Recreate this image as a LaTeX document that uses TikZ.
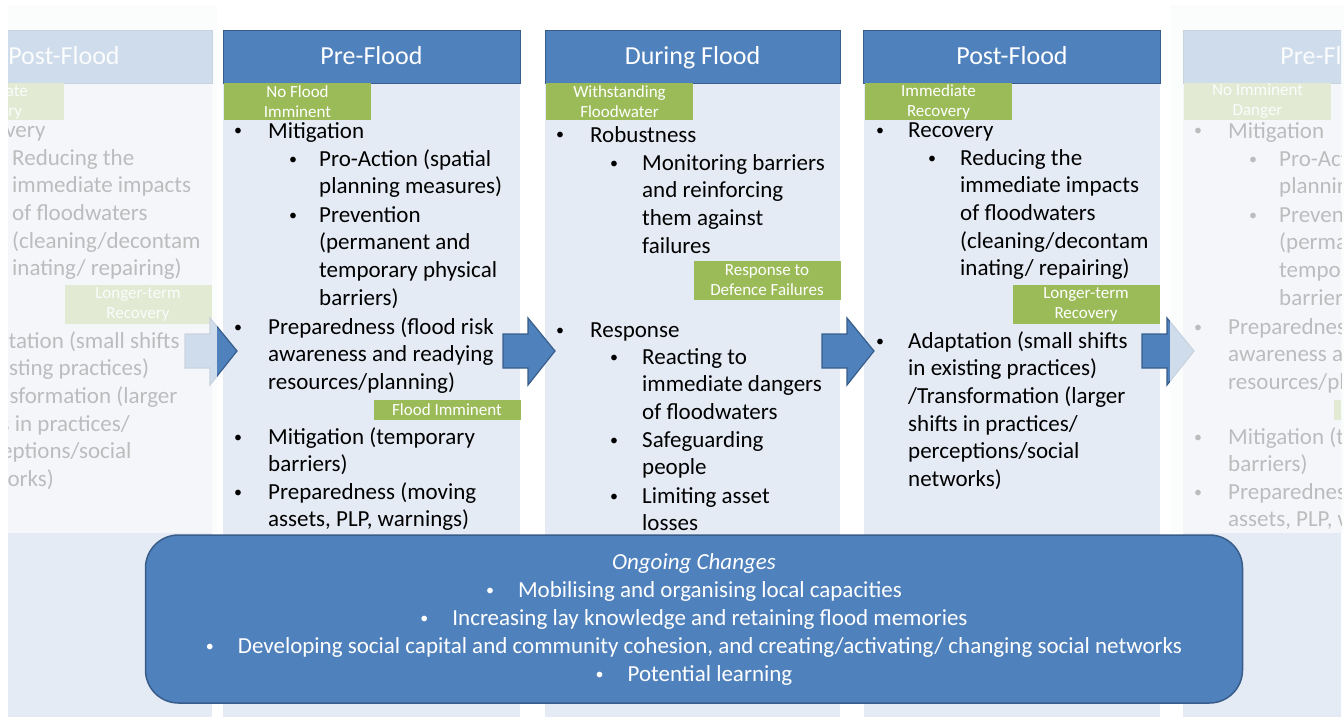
\documentclass[tikz,border=0pt]{standalone}
\usepackage{fontspec}
\setmainfont{Carlito}
\definecolor{hdr}{HTML}{4F81BD}
\definecolor{hdrline}{HTML}{385D8A}
\definecolor{colbg}{HTML}{E5EBF5}
\definecolor{lbl}{HTML}{9BBB59}
\definecolor{veil}{HTML}{FAFBFC}
\newcommand\smalldot{{\fontsize{16}{16}\selectfont\raisebox{2pt}{•}}}
\tikzset{
  colbody/.style={fill=colbg},
  header/.style={fill=hdr, draw=hdrline, line width=0.8pt, text=white,
    font=\fontsize{26}{30}\selectfont, minimum width=297pt, minimum height=53pt,
    inner sep=0pt, text height=22pt, text depth=5pt},
  tag/.style={fill=lbl, text=white, font=\fontsize{17}{20}\selectfont,
    align=center, inner sep=0pt, minimum width=147pt},
  item/.style={anchor=base west, align=left, inner sep=0pt, font=\fontsize{23}{27.7}\selectfont},
  dot/.style={anchor=base, inner sep=0pt, font=\fontsize{23}{27.7}\selectfont},
  flow/.style={fill=hdr, draw=hdrline, line width=1.2pt, line join=miter},
  veiled/.style={fill=veil, opacity=0.75},
  ongoingbox/.style={fill=hdr, draw=hdrline, line width=1.5pt, rounded corners=33pt,
    minimum width=1097pt, minimum height=168pt, text=white, align=center,
    font=\fontsize{23}{28}\selectfont}
}
% note: the base anchor of a multi-line node is the baseline of its last line
\newcommand\precolumn[1]{%
  \fill[colbody] (223,30) rectangle (520,717);
  \node[header] (head) at (371.5,56.5) {Pre-Flood};
  \node[tag, minimum height=37pt] (tagA) at (297.5,101.5) {#1};
  \node[tag, minimum height=20pt] (tagB) at (447,410) {Flood Imminent};
  \node[dot] (b1) at (238,138) {\smalldot};
  \node[item] (i1) at (268,138) {Mitigation};
  \node[dot] (b2) at (293,166) {\smalldot};
  \node[item] (i2) at (319,193.7) {Pro-Action (spatial\\planning measures)};
  \node[dot] (b3) at (293,222) {\smalldot};
  \node[item] (i3) at (319,305.1) {Prevention\\(permanent and\\temporary physical\\barriers)};
  \node[dot] (b4) at (238,334) {\smalldot};
  \node[item] (i4) at (268,389.4) {Preparedness (flood risk\\awareness and readying\\resources/planning)};
  \node[dot] (b5) at (238,444) {\smalldot};
  \node[item] (i5) at (268,471.7) {Mitigation (temporary\\barriers)};
  \node[dot] (b6) at (238,499) {\smalldot};
  \node[item] (i6) at (268,526.7) {Preparedness (moving\\assets, PLP, warnings)};
}
\newcommand\postcolumn{%
  \fill[colbody] (864,30) rectangle (1160,717);
  \node[header] (head) at (1012,56.5) {Post-Flood};
  \node[tag, minimum height=37pt] (tagA) at (938.5,101.5) {Immediate\\Recovery};
  \node[tag, minimum height=39pt] (tagB) at (1086,304.5) {Longer-term\\Recovery};
  \node[dot] (b1) at (880,137) {\smalldot};
  \node[item] (i1) at (908,137) {Recovery};
  \node[dot] (b2) at (932,165) {\smalldot};
  \node[item] (i2) at (960,275.8) {Reducing the\\immediate impacts\\of floodwaters\\(cleaning/decontam\\inating/ repairing)};
  \node[dot] (b3) at (880,348) {\smalldot};
  \node[item] (i3) at (908,486.5) {Adaptation (small shifts\\in existing practices)\\/Transformation (larger\\shifts in practices/\\perceptions/social\\networks)};
}
\newcommand\flowarrow[1]{%
  \draw[flow] (#1,334) -- ++(25,0) -- ++(0,-16) -- ++(27,33) -- ++(-27,34) -- ++(0,-17) -- ++(-25,0) -- cycle;
}
\begin{document}
\begin{tikzpicture}[x=1pt,y=-1pt]
\useasboundingbox (0,0) rectangle (1344,717);
\fill[white] (0,0) rectangle (1344,717);
\begin{scope}
  \clip (8,0) rectangle (1341,717);
  % left faded copy of Post-Flood
  \begin{scope}[shift={(-948,0)}, name prefix=L-]
    \postcolumn
  \end{scope}
  % Pre-Flood
  \begin{scope}[name prefix=pre-]
    \precolumn{No Flood\\Imminent}
  \end{scope}
  % During Flood
  \begin{scope}[name prefix=dur-]
    \fill[colbody] (545,30) rectangle (840,717);
    \node[header, minimum width=295pt] (head) at (692.5,56.5) {During Flood};
    \node[tag, minimum height=37pt] (tagA) at (619.5,101.5) {Withstanding\\Floodwater};
    \node[tag, minimum height=39pt] (tagB) at (767,280.5) {Response to\\Defence Failures};
    \node[dot] (b1) at (560,142) {\smalldot};
    \node[item] (i1) at (590,142) {Robustness};
    \node[dot] (b2) at (614,170) {\smalldot};
    \node[item] (i2) at (642,253.1) {Monitoring barriers\\and reinforcing\\them against\\failures};
    \node[dot] (b3) at (560,337) {\smalldot};
    \node[item] (i3) at (590,337) {Response};
    \node[dot] (b4) at (614,364) {\smalldot};
    \node[item] (i4) at (642,419.4) {Reacting to\\immediate dangers\\of floodwaters};
    \node[dot] (b5) at (614,447) {\smalldot};
    \node[item] (i5) at (642,474.7) {Safeguarding\\people};
    \node[dot] (b6) at (614,503) {\smalldot};
    \node[item] (i6) at (642,530.7) {Limiting asset\\losses};
  \end{scope}
  % Post-Flood
  \begin{scope}[name prefix=post-]
    \postcolumn
  \end{scope}
  % right faded copy of Pre-Flood
  \begin{scope}[shift={(960,0)}, name prefix=R-]
    \precolumn{No Imminent\\Danger}
  \end{scope}
\end{scope}
% block arrows
\flowarrow{185}
\flowarrow{503}
\flowarrow{822}
\flowarrow{1142}
% fading veils
\fill[veiled] (8,5) rectangle (217,533);
\fill[veiled] (1170,5) rectangle (1344,533);
% ongoing changes
\node[ongoingbox] (ongoing) at (694,619) {\textit{Ongoing Changes}\\
  \smalldot\hspace{24pt}Mobilising and organising local capacities\\
  \smalldot\hspace{24pt}Increasing lay knowledge and retaining flood memories\\
  \smalldot\hspace{24pt}Developing social capital and community cohesion, and creating/activating/ changing social networks\\
  \smalldot\hspace{24pt}Potential learning};
\end{tikzpicture}
\end{document}
